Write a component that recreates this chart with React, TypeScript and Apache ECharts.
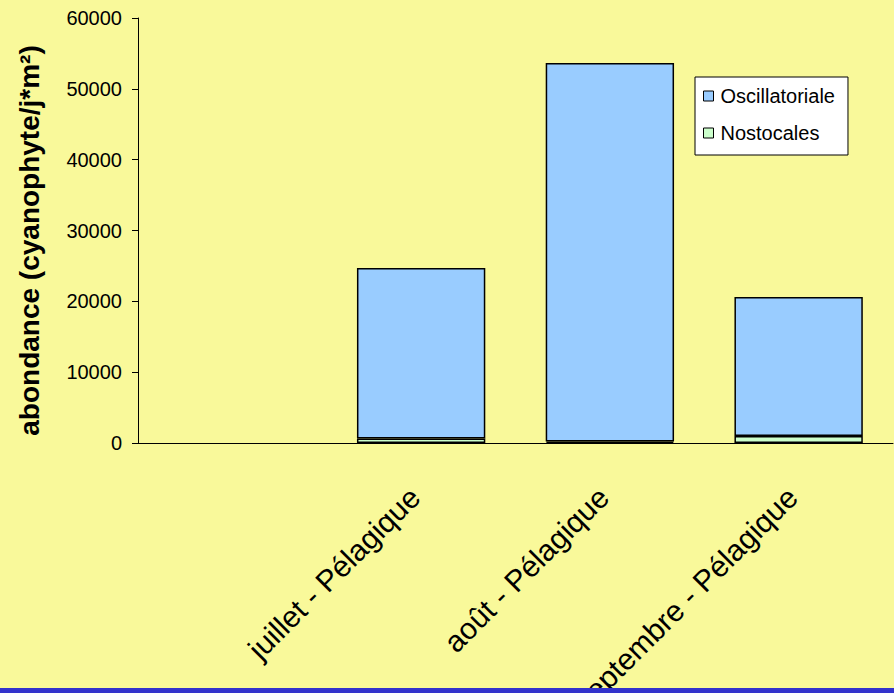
import React, { useEffect, useRef } from "react";
import * as echarts from "echarts";

const categories = ["", "juillet - Pélagique", "août - Pélagique", "septembre - Pélagique"];
const nostocales = [null, 650, 200, 1000];
const oscillatoriale = [null, 24050, 53450, 19600];
const yTicks = { min: 0, max: 60000, interval: 10000 };

export default function App() {
  const ref = useRef<HTMLDivElement>(null);
  useEffect(() => {
    const chart = echarts.init(ref.current!, null, { renderer: "svg" });
    const font = "Liberation Sans, Arial, sans-serif";
    chart.setOption({
      animation: false,
      backgroundColor: "#F9F99A",
      textStyle: { fontFamily: font },
      grid: { left: 138, top: 18, right: 1, bottom: 250, containLabel: false, outerBoundsMode: "none" },
      legend: {
        orient: "vertical",
        left: 695,
        top: 77,
        itemWidth: 10,
        itemHeight: 10,
        itemGap: 17,
        padding: [9, 13, 12, 8],
        backgroundColor: "#FFFFFF",
        borderColor: "#000000",
        borderWidth: 1,
        icon: "rect",
        textStyle: { fontFamily: font, fontSize: 20, color: "#000", padding: [0, 0, 0, 2] },
        data: [
          { name: "Oscillatoriale", itemStyle: { color: "#99CCFF", borderColor: "#000", borderWidth: 1 } },
          { name: "Nostocales", itemStyle: { color: "#CCFFCC", borderColor: "#000", borderWidth: 1 } },
        ],
      },
      xAxis: {
        type: "category",
        data: categories,
        axisLine: { lineStyle: { color: "#000", width: 1 } },
        axisTick: { length: 8, lineStyle: { color: "#000" } },
        axisLabel: {
          rotate: 45,
          interval: 0,
          fontSize: 30,
          color: "#000",
          fontFamily: font,
          margin: 43,
          padding: [0, 9, 0, 0],
        },
      },
      yAxis: {
        type: "value",
        min: yTicks.min,
        max: yTicks.max,
        interval: yTicks.interval,
        name: "abondance (cyanophyte/j*m²)",
        nameLocation: "middle",
        nameGap: 95,
        nameTextStyle: { fontSize: 28, fontWeight: "bold", color: "#000", fontFamily: font, padding: [0, 20, 0, 0] },
        axisLine: { show: true, lineStyle: { color: "#000", width: 1 } },
        axisTick: { show: true, length: 6, lineStyle: { color: "#000" } },
        splitLine: { show: false },
        axisLabel: {
          fontSize: 20,
          color: "#000",
          fontFamily: font,
          margin: 16,
          formatter: (v: number) => String(v),
        },
      },
      series: [
        {
          name: "Nostocales",
          type: "bar",
          stack: "total",
          barWidth: "68%",
          data: nostocales,
          itemStyle: { color: "#CCFFCC", borderColor: "#000", borderWidth: 1.5 },
        },
        {
          name: "Oscillatoriale",
          type: "bar",
          stack: "total",
          barWidth: "68%",
          data: oscillatoriale,
          itemStyle: { color: "#99CCFF", borderColor: "#000", borderWidth: 1.5 },
        },
      ],
      graphic: [
        {
          type: "rect",
          left: 0,
          bottom: 0,
          z: 100,
          shape: { width: 894, height: 5 },
          style: { fill: "#3333CC" },
        },
      ],
    });
    return () => chart.dispose();
  }, []);
  return <div ref={ref} style={{ position: "fixed", left: 0, top: 0, width: 894, height: 693 }} />;
}
